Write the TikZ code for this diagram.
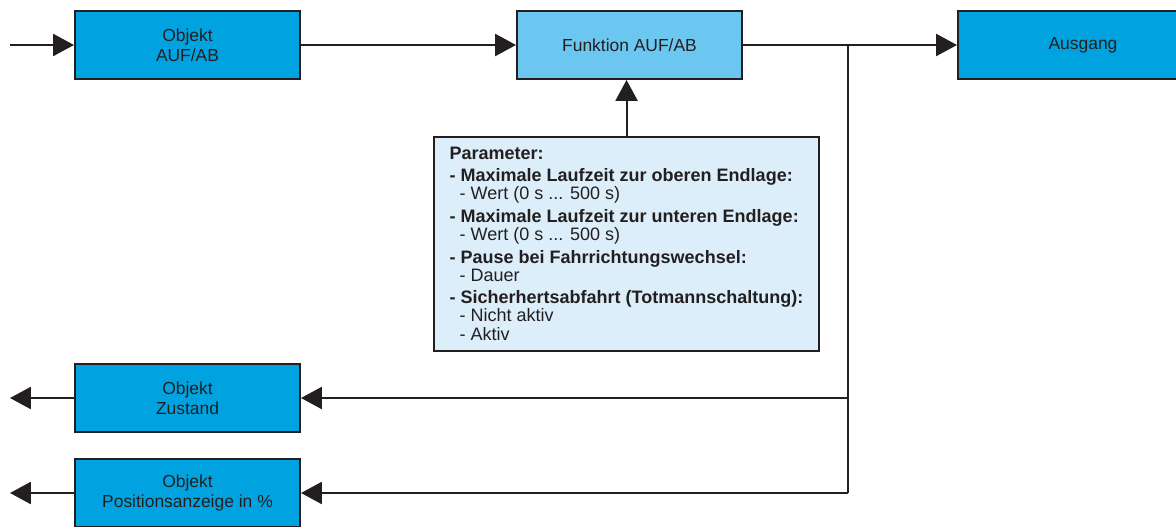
\documentclass[tikz,border=0pt]{standalone}
\usepackage{fontspec}
\setmainfont{Liberation Sans}
\usetikzlibrary{arrows.meta, positioning}
\definecolor{boxblue}{RGB}{0,163,224}
\definecolor{funcblue}{RGB}{108,199,240}
\definecolor{parblue}{RGB}{220,238,249}
\definecolor{ink}{RGB}{35,31,32}
\tikzset{
	box/.style={
		rectangle,
		draw=ink, line width=1.4pt,
		fill=boxblue, text=ink,
		minimum width=5.625cm, minimum height=1.7cm,
		align=center,
		font=\fontsize{12.4}{14.4}\selectfont
	},
	funcbox/.style={box, fill=funcblue},
	parbox/.style={
		rectangle,
		draw=ink, line width=1.4pt,
		fill=parblue, text=ink,
		minimum width=9.625cm, minimum height=5.35cm,
		align=left,
		font=\fontsize{12.8}{12.8}\selectfont
	},
	flow/.style={draw=ink, line width=1.4pt},
	arr/.style={flow, -{Triangle[length=0.52cm,width=0.55cm]}}
}
\newcommand{\parhead}[1]{\textbf{#1}}
\newcommand{\paritem}[1]{\hspace*{0.25cm}#1}

\begin{document}
\begin{tikzpicture}[x=0.025cm, y=-0.025cm]
	\useasboundingbox (0,0) rectangle (1176,526);

	% boxes
	\node[box]     (auf)  at (187.5,45)   {Objekt\\AUF/AB};
	\node[funcbox] (fun)  at (629.5,45)   {Funktion AUF/AB};
	\node[box, minimum width=6.25cm] (aus) at (1083,45) {Ausgang};
	\node[box]     (zust) at (187.5,398)  {Objekt\\Zustand};
	\node[box]     (pos)  at (187.5,493)  {Objekt\\Positionsanzeige in \%};
	\node[parbox, anchor=north west] (par) at (433,136) {%
		\parhead{Parameter:}\\[2.8pt]
		\parhead{- Maximale Laufzeit zur oberen Endlage:}\\
		\paritem{- Wert (0 s ... 500 s)}\\[3.5pt]
		\parhead{- Maximale Laufzeit zur unteren Endlage:}\\
		\paritem{- Wert (0 s ... 500 s)}\\[3.5pt]
		\parhead{- Pause bei Fahrrichtungswechsel:}\\
		\paritem{- Dauer}\\[3.5pt]
		\parhead{- Sicherhertsabfahrt (Totmannschaltung):}\\
		\paritem{- Nicht aktiv}\\[0.7pt]
		\paritem{- Aktiv}};

	% free ends and branch point
	\coordinate (in)   at (10,45);
	\coordinate (br)   at (848,45);
	\coordinate (outz) at (10,398);
	\coordinate (outp) at (10,493);

	% connectors
	\draw[arr] (in) -- (auf.west);
	\draw[arr] (auf.east) -- (fun.west);
	\draw[arr] (fun.east) -- (aus.west);
	\draw[arr] (par.north) -- (par.north |- fun.south);
	\draw[flow] (br) -- (br |- pos.east);
	\draw[arr] (br |- zust.east) -- (zust.east);
	\draw[arr] (br |- pos.east) -- (pos.east);
	\draw[arr] (zust.west) -- (outz);
	\draw[arr] (pos.west) -- (outp);
\end{tikzpicture}
\end{document}
